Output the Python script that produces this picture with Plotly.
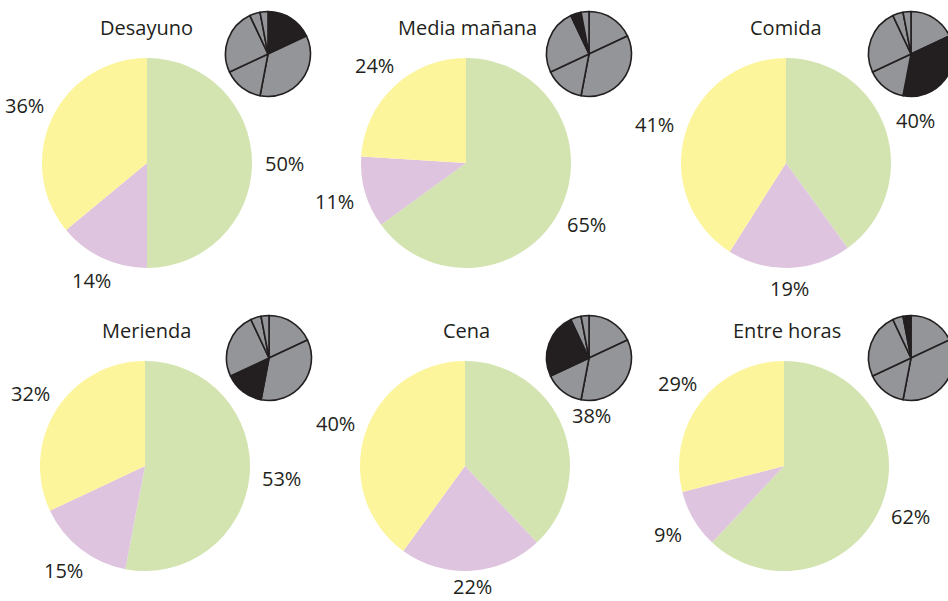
import math
import plotly.graph_objects as go

# ---- data ----
meals = ["Desayuno", "Media mañana", "Comida", "Merienda", "Cena", "Entre horas"]
groups = ["Grupo verde", "Grupo rosa", "Grupo amarillo"]
green_vals = [50, 65, 40, 53, 38, 62]
pink_vals = [14, 11, 19, 15, 22, 9]
yellow_vals = [36, 24, 41, 32, 40, 29]

# share of each meal (inset pies, clockwise from 12 o'clock)
share_labels = ["Desayuno", "Comida", "Merienda", "Cena", "Media mañana", "Entre horas"]
share_vals = [18, 35, 15, 25, 4, 3]

# ---- layout geometry (pixels) ----
W, H = 948, 601          # visible window
FW = 960                 # figure slightly wider so the clipped inset pie keeps its size
main_centers = [(147, 163), (466, 163), (786, 163), (145, 466), (465, 466), (784, 466)]
main_r = 105
small_centers = [(268, 54), (589, 54), (911, 54), (269, 358), (589, 358), (911, 358)]
small_r = 42.5
title_pos = [(146, 28), (467, 28), (786, 28), (146, 330), (466, 330), (787, 330)]

FONT = "Open Sans"
FS = 20
TXT = "#231f20"
colors_main = ["#d3e4b0", "#dec4de", "#fdf59b"]


def dom(cx, cy, r):
    return dict(x=[max(0, (cx - r) / FW), min(1, (cx + r) / FW)],
                y=[max(0, 1 - (cy + r) / H), min(1, 1 - (cy - r) / H)])


fig = go.Figure()
annotations = []
for i, meal in enumerate(meals):
    vals = [green_vals[i], pink_vals[i], yellow_vals[i]]
    cx, cy = main_centers[i]
    fig.add_trace(go.Pie(
        labels=groups, values=vals, sort=False, direction="clockwise", rotation=0,
        marker=dict(colors=colors_main, line=dict(width=0)),
        textinfo="none",
        domain=dom(cx, cy, main_r), showlegend=False, hoverinfo="skip",
    ))
    cols = ["#231f20" if lab == meal else "#939598" for lab in share_labels]
    fig.add_trace(go.Pie(
        labels=share_labels, values=share_vals, sort=False, direction="clockwise", rotation=0,
        marker=dict(colors=cols, line=dict(color="#231f20", width=1.6)),
        textinfo="none", domain=dom(*small_centers[i], small_r),
        showlegend=False, hoverinfo="skip",
    ))
    # percentage labels placed outside each slice along its mid-angle
    total = sum(vals)
    cum = 0
    for v in vals:
        mid = (cum + v / 2) / total * 2 * math.pi
        cum += v
        s, c = math.sin(mid), math.cos(mid)
        d = 125 + 12 * abs(s)
        px, py = cx + d * s, min(cy - d * c, H - 15)
        annotations.append(dict(text=f"{v}%", x=px / FW, y=1 - py / H, xref="paper", yref="paper",
                                xanchor="center", yanchor="middle", showarrow=False,
                                font=dict(family=FONT, size=FS, color=TXT)))
    tx, ty = title_pos[i]
    annotations.append(dict(text=meal, x=tx / FW, y=1 - ty / H, xref="paper", yref="paper",
                            xanchor="center", yanchor="middle", showarrow=False,
                            font=dict(family=FONT, size=FS, color=TXT)))

fig.update_layout(width=FW, height=H, margin=dict(l=0, r=0, t=0, b=0),
                  paper_bgcolor="white", plot_bgcolor="white",
                  annotations=annotations)
fig.write_html(
    "out.html",
    config={"displayModeBar": False},
    post_script="document.documentElement.style.overflow='hidden';"
                "document.body.style.overflow='hidden';document.body.style.margin='0';",
)
